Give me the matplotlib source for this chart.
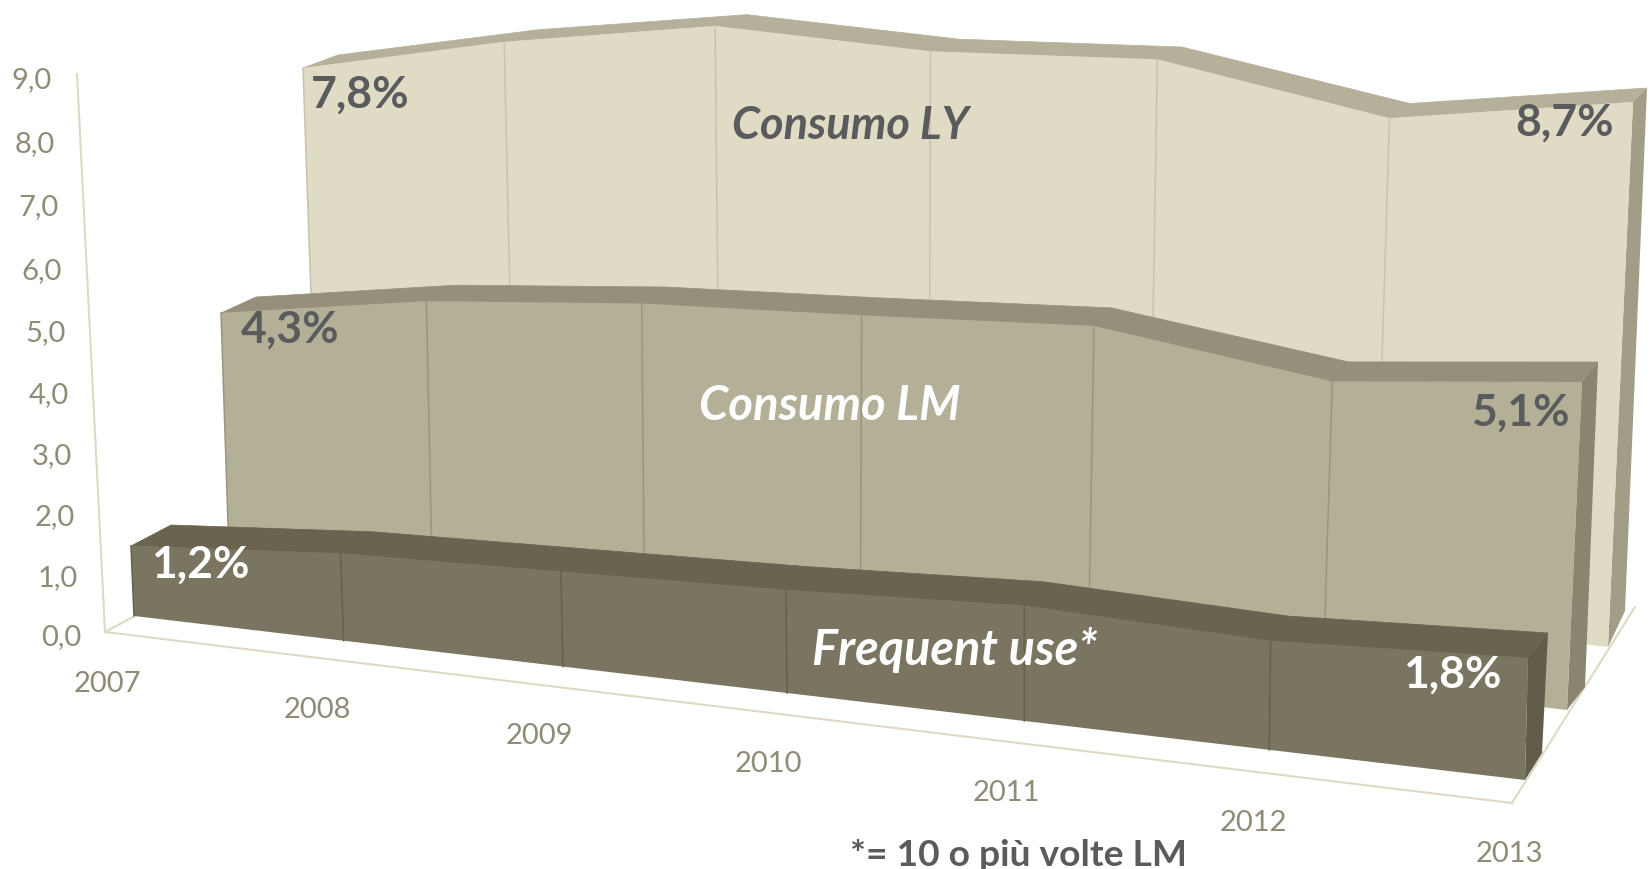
import matplotlib
matplotlib.use("Agg")
import matplotlib.pyplot as plt
import matplotlib.transforms as mtransforms
import numpy as np

plt.rcParams["font.family"] = ["Lato", "DejaVu Sans"]

years = ["2007", "2008", "2009", "2010", "2011", "2012", "2013"]
y_ticks = [0, 1, 2, 3, 4, 5, 6, 7, 8, 9]
y_tick_labels = ["0,0", "1,0", "2,0", "3,0", "4,0", "5,0", "6,0", "7,0", "8,0", "9,0"]

consumo_ly = [7.8, 8.5, 9.0, 8.8, 8.9, 8.2, 8.7]
consumo_lm = [4.3, 4.82, 5.09, 5.2, 5.34, 4.78, 5.1]
frequent_use = [1.2, 1.46, 1.55, 1.64, 1.79, 1.65, 1.8]

# the picture has less perspective along the years than its corners suggest
wall_warp = [0, 1.03, 2.055, 3.05, 4.05, 5.03, 6]
axis_warp = [0, 1.0, 2.015, 3.02, 4.02, 5.015, 6]


class Plane(mtransforms.Transform):
    # perspective of the old 3D chart: (year index, value) -> image pixel
    input_dims = 2
    output_dims = 2

    def __init__(self, v_left, v_right, corners, warp):
        super().__init__()
        self.warp = warp
        src = [(0, 0), (0, v_left), (6, v_right), (6, 0)]
        rows, rhs = [], []
        for (x, y), (u, v) in zip(src, corners):
            rows.append([x, y, 1, 0, 0, 0, -u * x, -u * y])
            rows.append([0, 0, 0, x, y, 1, -v * x, -v * y])
            rhs += [u, v]
        self.h = np.append(np.linalg.solve(np.array(rows, float), rhs), 1).reshape(3, 3)

    def transform_non_affine(self, values):
        values = np.asarray(values, float)
        x = np.interp(values[:, 0], range(7), self.warp)
        # keep labels left of the first year where they were
        x = np.where(values[:, 0] < 0, values[:, 0], x)
        pts = np.column_stack([x, values[:, 1], np.ones(len(x))]) @ self.h.T
        return pts[:, :2] / pts[:, 2:]


# bottom-left, top-left, top-right, bottom-right of each face, in pixels
axis_plane = Plane(9, 9, [(105, 632), (77, 74), (1547, 173), (1512, 803)], axis_warp)
walls = [
    dict(values=consumo_ly,
         front=[(318, 494), (303, 68), (1633, 102), (1608, 647)],
         back=[(352, 468), (338, 55), (1647, 88), (1625, 611)],
         colors=("#E0DBC5", "#B5B09A", "#A29D87", "#C8C3AC")),
    dict(values=consumo_lm,
         front=[(229, 553), (221, 313), (1582, 382), (1567, 710)],
         back=[(259, 530), (256, 297), (1598, 362), (1585, 687)],
         colors=("#B4AF97", "#96907A", "#8A856F", "#9A957E")),
    dict(values=frequent_use,
         front=[(134, 616), (131, 546), (1528, 658), (1525, 780)],
         back=[(173, 592), (171, 525), (1548, 633), (1542, 753)],
         colors=("#7A7560", "#69634F", "#625D4B", "#656050")),
]

fig = plt.figure(figsize=(16.5, 8.6901), dpi=100)
ax = fig.add_axes([0, 0, 1, 1])
ax.set_xlim(0, 1650)
ax.set_ylim(869, 0)
ax.axis("off")

# axes of the chart
line_color = "#DDD9C3"
ax.plot([0, 0], [0, 9], color=line_color, lw=1.5, transform=axis_plane + ax.transData)
ax.plot([0, 6], [0, 0], color=line_color, lw=1.5, transform=axis_plane + ax.transData)
ax.plot([105, 133], [632, 617], color=line_color, lw=1.5)
ax.plot([1512, 1635], [803, 607], color=line_color, lw=1.5)

xs = np.arange(7)
for i, wall in enumerate(walls):
    z = 3 + i
    vals = np.array(wall["values"])
    front = Plane(vals[0], vals[-1], wall["front"], wall_warp)
    back = Plane(vals[0], vals[-1], wall["back"], wall_warp)
    face, top, side, grid = wall["colors"]
    edge = np.column_stack([xs, vals])

    # right side
    corner = np.array([[6, 0], [6, vals[-1]]])
    pts = np.vstack([front.transform(corner), back.transform(corner)[::-1]])
    ax.fill(pts[:, 0], pts[:, 1], color=side, lw=0, zorder=z)
    # top
    pts = np.vstack([front.transform(edge), back.transform(edge)[::-1]])
    ax.fill(pts[:, 0], pts[:, 1], color=top, lw=0.5, zorder=z)
    # front
    outline = np.vstack([[0, 0], edge, [6, 0]])
    ax.fill(outline[:, 0], outline[:, 1], color=face, lw=0, zorder=z,
            transform=front + ax.transData)
    for x, v in zip(xs[:-1], vals[:-1]):
        ax.plot([x, x], [0, v], color=grid, lw=1.1, zorder=z,
                transform=front + ax.transData)

tick_color = "#8F8B76"
for v, lab in zip(y_ticks, y_tick_labels):
    ax.text(-0.215, v - 0.18 + v * 0.005, lab, color=tick_color, fontsize=21, ha="center",
            va="center", transform=axis_plane + ax.transData)
for x, lab in zip(xs, years):
    ax.text(x, -0.88 + x * 0.02, lab, color=tick_color, fontsize=21, ha="center", va="center",
            transform=axis_plane + ax.transData)

dark = "#5A5B5D"
bold = dict(fontweight="bold", ha="center", va="center", zorder=10)
ax.text(360, 95, "7,8%", color=dark, fontsize=32, **bold)
ax.text(1565, 123, "8,7%", color=dark, fontsize=32, **bold)
ax.text(290, 330, "4,3%", color=dark, fontsize=32, **bold)
ax.text(1520, 413, "5,1%", color=dark, fontsize=32, **bold)
ax.text(200, 565, "1,2%", color="white", fontsize=32, **bold)
ax.text(1452, 675, "1,8%", color="white", fontsize=32, **bold)

ax.text(851, 126, "Consumo LY", color=dark, fontsize=32.5, style="italic", **bold)
ax.text(830, 406, "Consumo LM", color="white", fontsize=34, style="italic", **bold)
ax.text(955, 650, "Frequent use*", color="white", fontsize=35, style="italic", **bold)
ax.text(1018, 855, "*= 10 o più volte LM", color=dark, fontsize=26.8, **bold)

fig.savefig("out.png", dpi=100)
